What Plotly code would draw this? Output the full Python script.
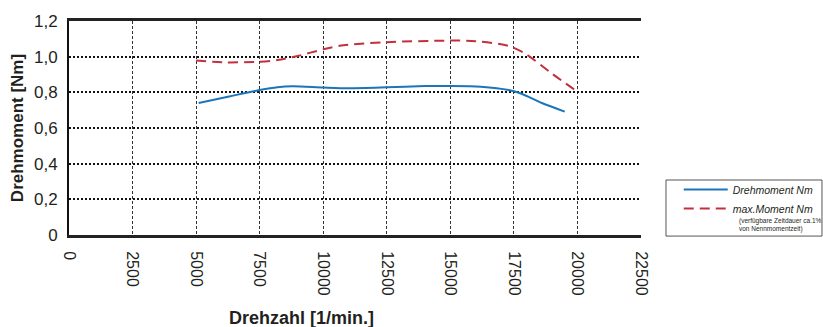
import plotly.graph_objects as go

# --- data ---
rpm_nenn = [5100, 6300, 7500, 8200, 8800, 10000, 11000, 12500, 14000, 15000, 16200, 17300, 17800, 18600, 19500]
moment_nenn = [0.740, 0.777, 0.813, 0.829, 0.834, 0.827, 0.823, 0.828, 0.835, 0.836, 0.832, 0.813, 0.792, 0.740, 0.692]

rpm_max = [5000, 6200, 7500, 8200, 9000, 10000, 10800, 12500, 14800, 16000, 17300, 18000, 19000, 20000]
moment_max = [0.978, 0.968, 0.972, 0.981, 1.004, 1.041, 1.064, 1.081, 1.090, 1.087, 1.060, 1.012, 0.905, 0.803]

x_tickvals = [0, 2500, 5000, 7500, 10000, 12500, 15000, 17500, 20000, 22500]
x_ticktext = ["0", "2500", "5000", "7500", "10000", "12500", "15000", "17500", "20000", "22500"]
y_tickvals = [0, 0.2, 0.4, 0.6, 0.8, 1.0, 1.2]
y_ticktext = ["0", "0,2", "0,4", "0,6", "0,8", "1,0", "1,2"]

series_names = ["<i>Drehmoment Nm</i>", "<i>max.Moment Nm</i>"]
legend_note = "(verfügbare Zeitdauer ca.1%<br>von Nennmomentzeit)"
x_title = "<b>Drehzahl [1/min.]</b>"
y_title = "<b>Drehmoment [Nm]</b>"

FONT = "Arial, Liberation Sans, Helvetica, sans-serif"
TXT = "#231f20"

fig = go.Figure()
fig.add_trace(go.Scatter(
    x=rpm_nenn, y=moment_nenn, mode="lines", name=series_names[0],
    line=dict(color="#1b75bb", width=2, shape="spline", smoothing=0.8),
))
fig.add_trace(go.Scatter(
    x=rpm_max, y=moment_max, mode="lines", name=series_names[1],
    line=dict(color="#c3303d", width=2, dash="10px,6px", shape="spline", smoothing=0.8),
))

fig.update_layout(
    width=823, height=327,
    margin=dict(l=69, r=182, t=21, b=92, autoexpand=False),
    paper_bgcolor="white", plot_bgcolor="white",
    font=dict(family=FONT, color=TXT),
    showlegend=True,
    legend=dict(
        x=1.066, y=0.28, xanchor="left", yanchor="top",
        bgcolor="rgba(0,0,0,0)", borderwidth=0,
        font=dict(size=10.5, color=TXT, family=FONT),
        itemwidth=44, tracegroupgap=0,
    ),
    xaxis=dict(
        range=[0, 22500], tickvals=x_tickvals, ticktext=x_ticktext,
        tickangle=90, tickfont=dict(size=16, color=TXT),
        showgrid=True, gridcolor="#333333", gridwidth=1, griddash="3px,2px",
        showline=True, linecolor="#222222", linewidth=3, mirror=True,
        zeroline=False, ticks="", ticklabelstandoff=10,
    ),
    yaxis=dict(
        range=[0, 1.2], tickvals=y_tickvals, ticktext=y_ticktext,
        tickfont=dict(size=17, color=TXT),
        showgrid=True, gridcolor="#111111", gridwidth=2, griddash="2px,2px",
        showline=True, linecolor="#111111", linewidth=2,
        zeroline=False, ticks="", ticklabelstandoff=6,
        title=dict(text=y_title, font=dict(size=17, color=TXT, family=FONT), standoff=6),
    ),
    shapes=[dict(
        type="rect", xref="paper", yref="paper",
        x0=1.0437, x1=1.3164, y0=-0.005, y1=0.257,
        line=dict(color="#555555", width=1), fillcolor="rgba(0,0,0,0)",
    )],
    annotations=[
        dict(text=x_title, xref="paper", yref="paper", x=0.407, y=-0.388,
             xanchor="center", yanchor="middle", showarrow=False,
             font=dict(size=18, color=TXT, family=FONT)),
        dict(text=legend_note, xref="paper", yref="paper", x=1.168, y=0.0935,
             xanchor="left", yanchor="top", showarrow=False, align="left",
             font=dict(size=6.5, color=TXT, family=FONT)),
    ],
)

fig.write_html("out.html", config={"displayModeBar": False},
               post_script="document.body.style.margin='0px';document.body.style.padding='0px';")
